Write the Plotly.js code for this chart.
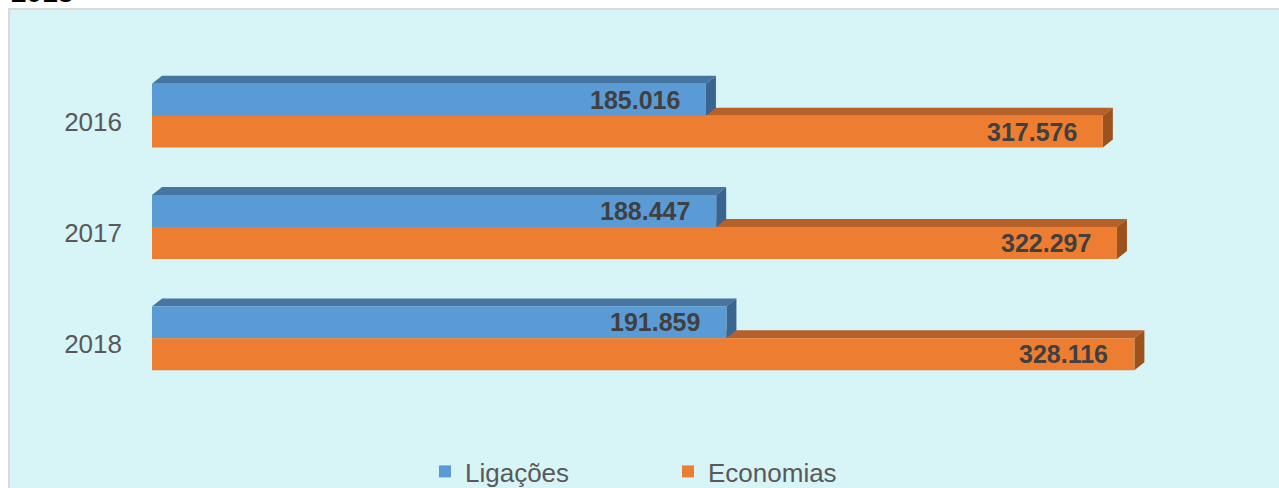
<!DOCTYPE html>
<html><head><meta charset="utf-8">
<script src="https://cdn.plot.ly/plotly-3.0.1.min.js"></script>
<style>
html,body{margin:0;padding:0;background:#ffffff;overflow:hidden;}
#bg{position:absolute;left:8px;top:8px;width:1300px;height:500px;background:#d7f4f7;border:2px solid #d9d9d9;}
#chart{position:absolute;left:0;top:0;width:1279px;height:488px;}
</style></head><body>
<div id="bg"></div><div id="chart"></div>
<script>
const years = ['2016', '2017', '2018'];
const ligacoes = [185016, 188447, 191859];
const economias = [317576, 322297, 328116];
const seriesNames = ['Ligações', 'Economias'];
const titleText = '2018';

const FONT = 'Liberation Sans, Arial, sans-serif';
const L = 152, R = 27, T = 60, B = 94;
const PW = 1279 - L - R, PH = 488 - T - B;
const XMAX = 367400;
const BW = 0.287;
const DX = 10 * XMAX / PW;
const DY = 8 * 3 / PH;
const pos = years.map((_, i) => i);

const colors = {
  blue: {front: '#5b9bd5', top: '#4775a1', side: '#3b6591'},
  orange: {front: '#ed7d31', top: '#b7612a', side: '#9d521e'}
};

function fmt(v) {
  return String(v).replace(/\B(?=(\d{3})+(?!\d))/g, '.');
}
function poly(pts) {
  return 'M' + pts.map(p => p[0] + ',' + p[1]).join('L') + 'Z';
}

const shapes = [];
pos.forEach((i, k) => {
  const vb = ligacoes[k], vo = economias[k];
  const yt = i - BW, ym = i, yb = i + BW;
  shapes.push({type: 'path', layer: 'below', xref: 'x', yref: 'y', line: {width: 0},
    fillcolor: colors.orange.top,
    path: poly([[0, ym], [DX, ym - DY], [vo + DX, ym - DY], [vo, ym]])});
  shapes.push({type: 'path', layer: 'below', xref: 'x', yref: 'y', line: {width: 0},
    fillcolor: colors.orange.side,
    path: poly([[vo, ym], [vo + DX, ym - DY], [vo + DX, yb - DY], [vo, yb]])});
  shapes.push({type: 'path', layer: 'below', xref: 'x', yref: 'y', line: {width: 0},
    fillcolor: colors.blue.top,
    path: poly([[0, yt], [DX, yt - DY], [vb + DX, yt - DY], [vb, yt]])});
  shapes.push({type: 'path', layer: 'below', xref: 'x', yref: 'y', line: {width: 0},
    fillcolor: colors.blue.side,
    path: poly([[vb, yt], [vb + DX, yt - DY], [vb + DX, ym - DY], [vb, ym]])});
});

const annotations = [];
pos.forEach((i, k) => {
  annotations.push({x: ligacoes[k], y: i - BW / 2, xref: 'x', yref: 'y', text: fmt(ligacoes[k]),
    showarrow: false, xanchor: 'right', yanchor: 'middle', xshift: -24,
    font: {family: FONT, size: 25, color: '#404040', weight: 'bold'}});
  annotations.push({x: economias[k], y: i + BW / 2, xref: 'x', yref: 'y', text: fmt(economias[k]),
    showarrow: false, xanchor: 'right', yanchor: 'middle', xshift: -24,
    font: {family: FONT, size: 25, color: '#404040', weight: 'bold'}});
});
annotations.push({xref: 'paper', yref: 'paper', x: (9 - L) / PW, y: 1 + (T - 10) / PH,
  xanchor: 'left', yanchor: 'bottom', showarrow: false, text: '<b>' + titleText + '</b>',
  font: {family: FONT, size: 28, color: '#000000'}});

const traces = [
  {type: 'bar', orientation: 'h', name: seriesNames[0], y: pos, x: ligacoes, width: BW, offset: -BW,
   marker: {color: colors.blue.front, line: {width: 0}}, hoverinfo: 'skip'},
  {type: 'bar', orientation: 'h', name: seriesNames[1], y: pos, x: economias, width: BW, offset: 0,
   marker: {color: colors.orange.front, line: {width: 0}}, hoverinfo: 'skip'}
];

const layout = {
  width: 1279, height: 488,
  margin: {l: L, r: R, t: T, b: B, pad: 0, autoexpand: false},
  paper_bgcolor: 'rgba(0,0,0,0)', plot_bgcolor: 'rgba(0,0,0,0)',
  barmode: 'overlay',
  font: {family: FONT, color: '#595959'},
  xaxis: {range: [0, XMAX], visible: false, showgrid: false, zeroline: false, fixedrange: true},
  yaxis: {range: [2.5, -0.5], tickvals: pos, ticktext: years, showgrid: false, zeroline: false,
    showline: false, ticks: '', ticklabelstandoff: 29, ticklabelshift: -6,
    tickfont: {family: FONT, size: 26, color: '#595959'}, fixedrange: true},
  showlegend: true,
  legend: {orientation: 'h', x: (425 - L) / PW, xanchor: 'left', y: -(448 - (T + PH)) / PH, yanchor: 'top',
    entrywidth: 198, entrywidthmode: 'pixels', font: {family: FONT, size: 26, color: '#595959'},
    bgcolor: 'rgba(0,0,0,0)', traceorder: 'normal'},
  shapes: shapes,
  annotations: annotations
};

Plotly.newPlot('chart', traces, layout, {displayModeBar: false, staticPlot: true});
</script>
</body></html>
